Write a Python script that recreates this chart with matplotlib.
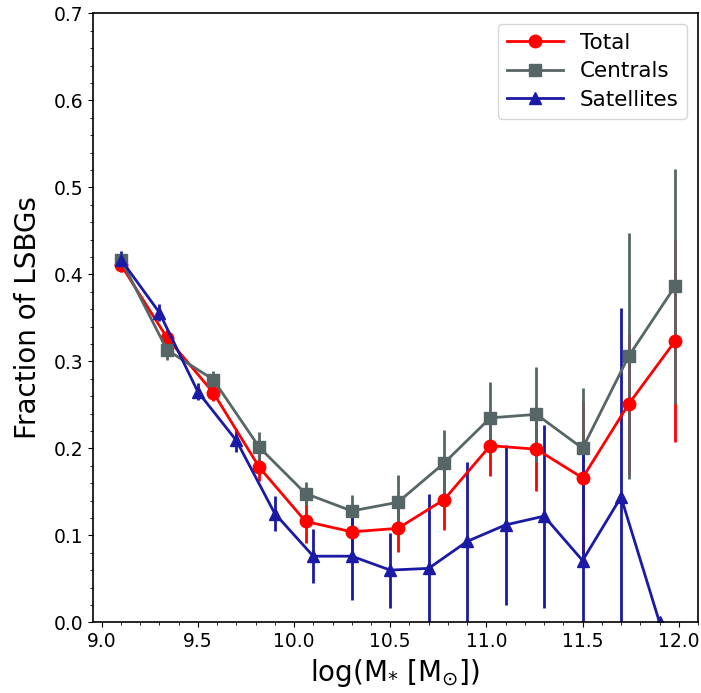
import numpy as np
import matplotlib
matplotlib.use('Agg')
from matplotlib import pyplot as plt
from matplotlib.ticker import MultipleLocator

# Total / Centrals share the same mass bins
mass_tc = [9.10, 9.34, 9.58, 9.82, 10.06, 10.30, 10.54, 10.78, 11.02, 11.26, 11.50, 11.74, 11.98]
total = [0.411, 0.327, 0.264, 0.178, 0.116, 0.104, 0.108, 0.141, 0.203, 0.199, 0.166, 0.251, 0.323]
total_err = [0.008, 0.010, 0.010, 0.015, 0.025, 0.021, 0.027, 0.035, 0.035, 0.048, 0.087, 0.080, 0.116]
centrals = [0.417, 0.313, 0.279, 0.201, 0.148, 0.128, 0.138, 0.183, 0.235, 0.239, 0.200, 0.306, 0.386]
centrals_err = [0.008, 0.012, 0.010, 0.018, 0.013, 0.018, 0.031, 0.038, 0.041, 0.055, 0.069, 0.141, 0.135]

mass_sat = [9.1, 9.3, 9.5, 9.7, 9.9, 10.1, 10.3, 10.5, 10.7, 10.9, 11.1, 11.3, 11.5, 11.7, 11.9]
satellites = [0.417, 0.356, 0.265, 0.209, 0.125, 0.076, 0.076, 0.060, 0.062, 0.093, 0.112, 0.122, 0.071, 0.144, 0.0]
satellites_err = [0.010, 0.010, 0.010, 0.013, 0.020, 0.031, 0.050, 0.043, 0.086, 0.091, 0.092, 0.105, 0.135, 0.217, 0.0]

fig = plt.figure(figsize=(7.01, 6.93), dpi=100)
ax = fig.add_axes([0.1327, 0.102, 0.863, 0.8788])

style = dict(lw=2, elinewidth=2, capsize=0, ms=9)
c1 = ax.errorbar(mass_tc, total, yerr=total_err, fmt='-o', color='red', label='Total', **style)
c2 = ax.errorbar(mass_tc, centrals, yerr=centrals_err, fmt='-s', color='#566666', label='Centrals', **style)
c3 = ax.errorbar(mass_sat, satellites, yerr=satellites_err, fmt='-^', color='#1a1aa6', label='Satellites', **style)

ax.set_xlim(8.955, 12.1)
ax.set_ylim(0.0, 0.7)
ax.xaxis.set_major_locator(MultipleLocator(0.5))
ax.xaxis.set_minor_locator(MultipleLocator(0.1))
ax.yaxis.set_major_locator(MultipleLocator(0.1))
ax.yaxis.set_minor_locator(MultipleLocator(0.02))
ax.tick_params(labelsize=13.5)
for sp in ax.spines.values():
    sp.set_linewidth(1.2)

ax.set_xlabel(r'log(M$_{*}$ [M$_{\odot}$])', fontsize=20, labelpad=4)
ax.set_ylabel('Fraction of LSBGs', fontsize=20, labelpad=8)

# legend shows plain line + marker, without the error bar stubs
ax.legend(handles=[c1[0], c2[0], c3[0]], labels=['Total', 'Centrals', 'Satellites'],
          loc='upper right', fontsize=15.5, handlelength=2.6, labelspacing=0.4)

plt.savefig('out.png', dpi=100)
